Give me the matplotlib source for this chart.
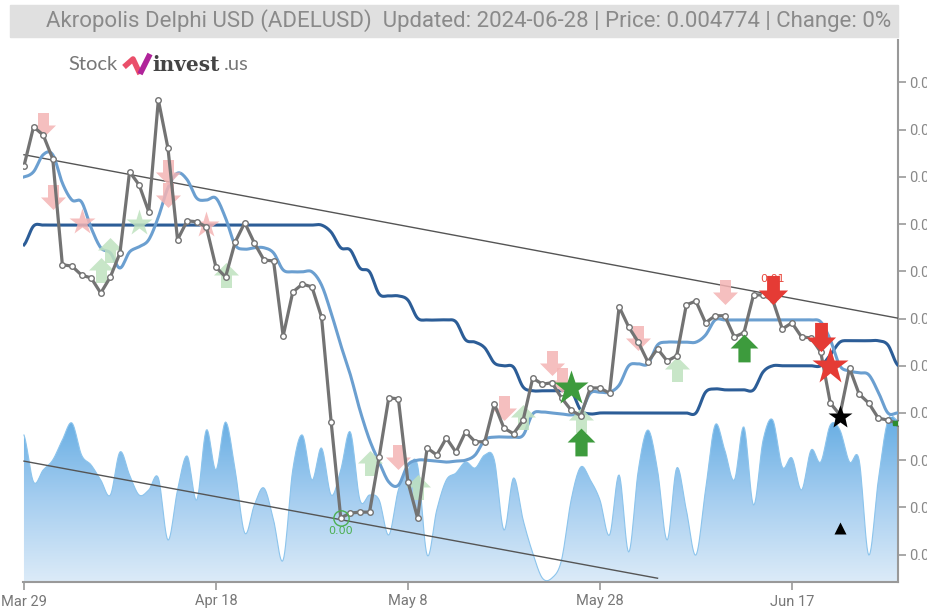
import numpy as np
import pandas as pd
import matplotlib
matplotlib.use("Agg")
import matplotlib.pyplot as plt
from matplotlib.path import Path
from matplotlib.colors import LinearSegmentedColormap
from matplotlib.patches import Rectangle

# ---- data (prices in millionths of USD) ----
dates = pd.date_range("2024-03-29", "2024-06-28", freq="D")

price_u = [5323, 5406, 5389, 5338, 5114, 5111, 5092, 5086, 5054, 5088,
           5139, 5311, 5283, 5226, 5463, 5361, 5167, 5207, 5205, 5194,
           5109, 5088, 5162, 5203, 5160, 5124, 5122, 4963, 5056, 5073,
           5067, 5003, 4781, 4578, 4588, 4590, 4590, 4707, 4832, 4830,
           4654, 4578, 4726, 4711, 4747, 4717, 4760, 4739, 4739, 4819,
           4768, 4756, 4785, 4874, 4861, 4864, 4832, 4806, 4794, 4853,
           4853, 4842, 5025, 4982, 4950, 4908, 4936, 4910, 4921, 5029,
           5037, 4991, 5006, 5006, 4961, 4970, 5050, 5050, 5039, 4978,
           4991, 4961, 4959, 4929, 4821, 4796, 4895, 4840, 4821, 4789,
           4785, 4778]

ma_short_u = [5300, 5311, 5347, 5347, 5287, 5251, 5247, 5192, 5150, 5139,
              5107, 5141, 5152, 5167, 5215, 5277, 5308, 5294, 5255, 5251,
              5255, 5213, 5156, 5147, 5150, 5150, 5139, 5103, 5099, 5099,
              5099, 5071, 5012, 4944, 4881, 4806, 4743, 4696, 4654, 4647,
              4690, 4700, 4700, 4698, 4696, 4698, 4700, 4711, 4743, 4749,
              4749, 4749, 4753, 4798, 4802, 4800, 4798, 4796, 4802, 4842,
              4844, 4844, 4859, 4900, 4904, 4904, 4944, 4950, 4950, 4950,
              4950, 4965, 4997, 4997, 4997, 4997, 4997, 4997, 4997, 4997,
              4997, 4997, 4997, 4993, 4955, 4900, 4889, 4885, 4881, 4844,
              4800, 4800]

ma_long_u = [5156, 5196] + [5198] * 30 + [
             5183, 5150, 5145, 5107, 5099, 5052, 5048, 5048, 5039, 5001,
             4997, 4997, 4997, 4993, 4955, 4950, 4938, 4906, 4900, 4897,
             4855, 4847, 4847, 4847, 4847, 4847, 4806, 4798, 4800, 4800,
             4800, 4800, 4800, 4800, 4800, 4800, 4800, 4800, 4800, 4844,
             4851, 4849, 4849, 4849, 4849, 4887, 4900, 4900, 4900, 4900,
             4900, 4900, 4923, 4950, 4953, 4953, 4953, 4953, 4944, 4902]

volume = [147, 100, 112, 122, 142, 159, 127, 117, 102, 87,
          130, 107, 87, 92, 104, 42, 92, 126, 82, 152,
          112, 160, 112, 49, 77, 94, 62, 22, 112, 147,
          102, 134, 87, 112, 150, 82, 87, 82, 47, 92,
          112, 117, 27, 72, 102, 109, 120, 114, 127, 122,
          52, 104, 62, 29, 4, 4, 22, 82, 115, 102,
          82, 47, 107, 30, 112, 152, 112, 42, 114, 72,
          27, 92, 157, 132, 102, 155, 77, 142, 162, 115,
          124, 92, 132, 120, 157, 152, 120, 122, 27, 102,
          162, 162]

# trend lines: (start date, start price, end date, end price)
trend_upper = ("2024-03-29", 5347, "2024-06-28", 5001)
trend_lower = ("2024-03-29", 4698, "2024-06-03", 4450)

# signals: (date, price in millionths)
sell_weak_arrows = [("2024-03-31", 5410), ("2024-04-01", 5258), ("2024-04-13", 5311),
                    ("2024-04-13", 5262), ("2024-05-07", 4707), ("2024-05-18", 4811),
                    ("2024-05-23", 4906), ("2024-05-24", 4870), ("2024-06-01", 4959),
                    ("2024-06-10", 5056)]
sell_weak_stars = [("2024-04-04", 5205), ("2024-04-17", 5198)]
buy_weak_arrows = [("2024-04-06", 5103), ("2024-04-07", 5145), ("2024-04-19", 5092),
                   ("2024-05-04", 4694), ("2024-05-09", 4643), ("2024-05-20", 4792),
                   ("2024-05-26", 4785), ("2024-06-05", 4893)]
buy_weak_stars = [("2024-04-10", 5203)]
buy_arrows = [("2024-05-26", 4739), ("2024-06-12", 4938)]
buy_stars = [("2024-05-25", 4853)]
sell_arrows = [("2024-06-15", 5061), ("2024-06-20", 4961)]
sell_stars = [("2024-06-21", 4900)]
black_star = ("2024-06-22", 4792)
black_triangle = ("2024-06-22", 4556)
low_point = ("2024-05-01", 4578)

tick_dates = ["2024-03-29", "2024-04-18", "2024-05-08", "2024-05-28", "2024-06-17"]
tick_labels = ["Mar 29", "Apr 18", "May 8", "May 28", "Jun 17"]
y_ticks_u = [4500, 4600, 4700, 4800, 4900, 5000, 5100, 5200, 5300, 5400, 5500]

title = "Akropolis Delphi USD (ADELUSD)  Updated: 2024-06-28 | Price: 0.004774 | Change: 0%"

U = 1e-6
x = np.arange(len(dates))


def day(d):
    return dates.get_loc(pd.Timestamp(d))


def smooth(y, n=10):
    # Catmull-Rom curve through the daily values (drawing only)
    y = np.asarray(y, float)
    p = np.concatenate([[y[0]], y, [y[-1]]])
    t = np.linspace(0, 1, n, endpoint=False)
    xs, ys = [], []
    for i in range(len(y) - 1):
        p0, p1, p2, p3 = p[i], p[i + 1], p[i + 2], p[i + 3]
        seg = 0.5 * (2 * p1 + (-p0 + p2) * t + (2 * p0 - 5 * p1 + 4 * p2 - p3) * t ** 2
                     + (-p0 + 3 * p1 - 3 * p2 + p3) * t ** 3)
        xs.append(i + t)
        ys.append(seg)
    xs.append([len(y) - 1])
    ys.append([y[-1]])
    return np.concatenate(xs), np.concatenate(ys)


up_arrow = Path([(-0.22, -0.5), (0.22, -0.5), (0.22, 0.0), (0.5, 0.0), (0.0, 0.5),
                 (-0.5, 0.0), (-0.22, 0.0), (-0.22, -0.5)])
down_arrow = Path([(-0.22, 0.5), (0.22, 0.5), (0.22, 0.0), (0.5, 0.0), (0.0, -0.5),
                   (-0.5, 0.0), (-0.22, 0.0), (-0.22, 0.5)])

W, H = 928, 608
fig = plt.figure(figsize=(W / 100, H / 100), dpi=100)
rect = (23 / W, 1 - 582 / H, (898 - 23) / W, (582 - 40) / H)
xlim = (-0.1, 91.05)

# ---- volume (behind) ----
vax = fig.add_axes(rect)
vax.set_xlim(*xlim)
vax.set_ylim(0, 542)
vax.axis("off")
vx, vy = smooth(volume, 12)
vy = np.clip(vy, 0, None)
poly = vax.fill_between(vx, 0, vy, color="none", lw=0)
cmap = LinearSegmentedColormap.from_list("vol", ["#dcebf8", "#a6cef0", "#66ade3"])
grad = np.linspace(0, 1, 256).reshape(-1, 1)
img = vax.imshow(grad, extent=[xlim[0], xlim[1], 0, 165], origin="lower",
                 aspect="auto", cmap=cmap, zorder=1)
img.set_clip_path(poly.get_paths()[0], transform=vax.transData)
vax.plot(vx, vy, color="#8cc4ec", lw=0.8, zorder=2)

# ---- price axes ----
ax = fig.add_axes(rect)
ax.patch.set_visible(False)
ax.set_xlim(*xlim)
ax.set_ylim(0.004442, 0.005590)

for tr in (trend_upper, trend_lower):
    ax.plot([day(tr[0]), day(tr[2])], [tr[1] * U, tr[3] * U], color="#555555", lw=1, zorder=3)

sx, sy = smooth(ma_long_u, 10)
ax.plot(sx, sy * U, color="#2c5d97", lw=2.2, zorder=4)
sx, sy = smooth(ma_short_u, 10)
ax.plot(sx, sy * U, color="#6b9fd0", lw=2.2, zorder=4)

ax.plot(x, np.array(price_u) * U, color="#737373", lw=2.3, zorder=6,
        marker="o", ms=4, mfc="white", mec="#737373", mew=1)


def put(points, marker, color, size, z=7, alpha=1.0):
    ax.plot([day(d) for d, _ in points], [p * U for _, p in points], ls="none",
            marker=marker, ms=size, color=color, mec="none", zorder=z, alpha=alpha)


put(sell_weak_arrows, down_arrow, "#f4b4b4", 18, z=5, alpha=0.85)
put(sell_weak_stars, "*", "#f4b4b4", 20, z=5, alpha=0.85)
put(buy_weak_arrows, up_arrow, "#bfe2bf", 18, z=5, alpha=0.85)
put(buy_weak_stars, "*", "#bfe2bf", 20, z=5, alpha=0.85)
put(buy_arrows, up_arrow, "#3d9b3d", 20, z=8)
put(buy_stars, "*", "#3d9b3d", 26, z=8)
ax.text(day(sell_arrows[0][0]), sell_arrows[0][1] * U + 12e-6, "0.01", color="#e84a3f",
        fontsize=8, ha="center", va="bottom", zorder=7)
put(sell_arrows, down_arrow, "#e53b35", 21, z=8)
put(sell_stars, "*", "#e53b35", 28, z=8)
put([black_star], "*", "black", 18, z=9)
put([black_triangle], "^", "black", 8, z=9)

ax.plot(day(low_point[0]), low_point[1] * U, marker="o", ms=11, mfc="none",
        mec="#4caf50", mew=1, zorder=8)
ax.text(day(low_point[0]), low_point[1] * U - 17e-6, "0.00", color="#4caf50",
        fontsize=8, ha="center", va="top", zorder=8)
ax.plot(x[-1] - 0.3, price_u[-1] * U, marker="s", ms=3, color="#2e8b2e", zorder=9)

# ---- axes styling ----
for s in ("left", "top"):
    ax.spines[s].set_visible(False)
for s in ("right", "bottom"):
    ax.spines[s].set_color("#999999")
    ax.spines[s].set_linewidth(1.5)
ax.yaxis.tick_right()
ax.set_yticks([v * U for v in y_ticks_u])
ax.set_yticklabels([f"{v * U:.4f}" for v in y_ticks_u], family="Roboto")
ax.set_xticks([day(d) for d in tick_dates])
ax.set_xticklabels(tick_labels, family="Roboto")
ax.tick_params(axis="y", colors="#999999", labelcolor="#888888", length=6,
               width=1.2, labelsize=10.5, pad=2)
ax.tick_params(axis="x", colors="#999999", labelcolor="#777777", length=6,
               width=1.2, labelsize=10.5, pad=3)

# ---- title bar and logo ----
fig.patches.append(Rectangle((10 / W, 1 - 37 / H), (898 - 10) / W, 32 / H,
                             transform=fig.transFigure, color="#e0e0e0", zorder=0))
fig.text(469 / W, 1 - 21 / H, title, ha="center", va="center", fontsize=16,
         color="#8a8a8a", family="Roboto")

fig.text(68 / W, 1 - 65 / H, "Stock", ha="left", va="center", fontsize=14.5,
         color="#777777", family="Lato")
fig.lines.append(plt.Line2D([124 / W, 133 / W, 140 / W], [1 - 67 / H, 1 - 59 / H, 1 - 74 / H],
                            transform=fig.transFigure, color="#ea4f6a", lw=4,
                            solid_capstyle="butt"))
fig.lines.append(plt.Line2D([140 / W, 150 / W], [1 - 74 / H, 1 - 54 / H],
                            transform=fig.transFigure, color="#b0239a", lw=4,
                            solid_capstyle="butt"))
fig.text(152 / W, 1 - 65 / H, "invest", ha="left", va="center", fontsize=14.5,
         color="#444444", family="DejaVu Serif", weight="bold")
fig.text(224 / W, 1 - 65 / H, ".us", ha="left", va="center", fontsize=14.5,
         color="#777777", family="Lato")

fig.savefig("out.png", dpi=100)
